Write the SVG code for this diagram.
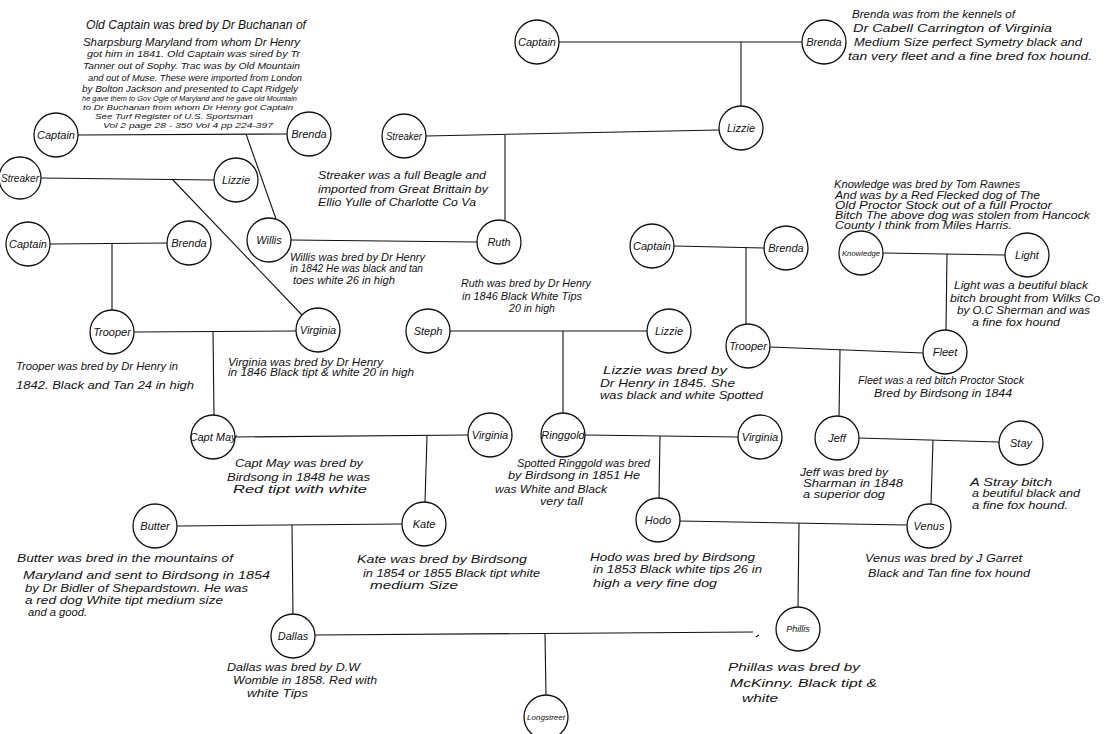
<svg xmlns="http://www.w3.org/2000/svg" width="1108" height="734" viewBox="0 0 1108 734">
<style>
.bg{fill:#fff}
.n circle{fill:#fff;stroke:#111;stroke-width:1.3}
.n text{font-family:"Liberation Sans",Arial,sans-serif;font-style:italic;font-size:11px;fill:#111;text-anchor:middle}
.c line,.c path{stroke:#111;stroke-width:1.1;fill:none}
.t text{font-family:"Liberation Sans",Arial,sans-serif;font-style:italic;font-size:11px;fill:#111}
.t .s{font-size:9px}
.t .xs{font-size:8px}
.t .b{font-size:13px}
.t .k{font-size:10px}
</style>
<rect class="bg" x="0" y="0" width="1108" height="734"/>

<g id="connectors" class="c">
<line x1="559" y1="42" x2="802" y2="42"/>
<line x1="741" y1="42" x2="741" y2="106"/>
<line x1="426" y1="136" x2="719" y2="130"/>
<line x1="505" y1="135" x2="505" y2="220"/>
<line x1="78" y1="135" x2="287" y2="134"/>
<line x1="246" y1="134" x2="276" y2="219"/>
<line x1="41" y1="178" x2="214" y2="180"/>
<line x1="172" y1="179" x2="302" y2="315"/>
<line x1="50" y1="244" x2="167" y2="243"/>
<line x1="112" y1="244" x2="112" y2="310"/>
<line x1="291" y1="240" x2="477" y2="242"/>
<line x1="134" y1="332" x2="296" y2="331"/>
<line x1="213" y1="332" x2="214" y2="415"/>
<line x1="450" y1="331" x2="647" y2="331"/>
<line x1="563" y1="331" x2="563" y2="413"/>
<line x1="674" y1="246" x2="764" y2="248"/>
<line x1="746" y1="247" x2="746" y2="324"/>
<line x1="883" y1="253" x2="1005" y2="255"/>
<line x1="947" y1="254" x2="946" y2="330"/>
<line x1="770" y1="347" x2="923" y2="353"/>
<line x1="840" y1="350" x2="839" y2="418"/>
<line x1="235" y1="437" x2="468" y2="435"/>
<line x1="427" y1="436" x2="425" y2="502"/>
<line x1="585" y1="435" x2="738" y2="437"/>
<line x1="660" y1="436" x2="659" y2="498"/>
<line x1="858" y1="438" x2="999" y2="442"/>
<line x1="933" y1="440" x2="931" y2="504"/>
<line x1="177" y1="526" x2="402" y2="524"/>
<line x1="292" y1="525" x2="293" y2="615"/>
<line x1="680" y1="521" x2="907" y2="525"/>
<line x1="799" y1="523" x2="798" y2="607"/>
<line x1="315" y1="635" x2="753" y2="632"/>
<path d="M756 637 L759 635 M776 634 L781 634"/>
<line x1="545" y1="634" x2="546" y2="695"/>
</g>

<g id="node-captain-1" class="n"><circle cx="537" cy="42" r="22"/><text x="537" y="46">Captain</text></g>
<g id="node-brenda-1" class="n"><circle cx="824" cy="42" r="22"/><text x="824" y="46">Brenda</text></g>
<g id="node-lizzie-1" class="n"><circle cx="741" cy="128" r="22"/><text x="741" y="132">Lizzie</text></g>
<g id="node-streaker-1" class="n"><circle cx="404" cy="136" r="22"/><text x="404" y="140" textLength="36" lengthAdjust="spacingAndGlyphs">Streaker</text></g>
<g id="node-captain-2" class="n"><circle cx="56" cy="135" r="22"/><text x="56" y="139">Captain</text></g>
<g id="node-brenda-2" class="n"><circle cx="309" cy="134" r="22"/><text x="309" y="138">Brenda</text></g>
<g id="node-streaker-2" class="n"><circle cx="20" cy="178" r="21"/><text x="20" y="182" textLength="38" lengthAdjust="spacingAndGlyphs">Streaker</text></g>
<g id="node-lizzie-2" class="n"><circle cx="236" cy="180" r="22"/><text x="236" y="184">Lizzie</text></g>
<g id="node-captain-3" class="n"><circle cx="28" cy="244" r="22"/><text x="28" y="248">Captain</text></g>
<g id="node-brenda-3" class="n"><circle cx="189" cy="243" r="22"/><text x="189" y="247">Brenda</text></g>
<g id="node-willis" class="n"><circle cx="269" cy="240" r="22"/><text x="269" y="244">Willis</text></g>
<g id="node-ruth" class="n"><circle cx="499" cy="242" r="22"/><text x="499" y="246">Ruth</text></g>
<g id="node-captain-4" class="n"><circle cx="652" cy="246" r="22"/><text x="652" y="250">Captain</text></g>
<g id="node-brenda-4" class="n"><circle cx="786" cy="248" r="22"/><text x="786" y="252">Brenda</text></g>
<g id="node-knowledge" class="n"><circle cx="861" cy="253" r="22"/><text x="861" y="256" style="font-size:8px" textLength="38" lengthAdjust="spacingAndGlyphs">Knowledge</text></g>
<g id="node-light" class="n"><circle cx="1027" cy="255" r="22"/><text x="1027" y="259">Light</text></g>
<g id="node-trooper-1" class="n"><circle cx="112" cy="332" r="22"/><text x="112" y="336">Trooper</text></g>
<g id="node-virginia-1" class="n"><circle cx="318" cy="330" r="22"/><text x="318" y="334">Virginia</text></g>
<g id="node-steph" class="n"><circle cx="428" cy="331" r="22"/><text x="428" y="335">Steph</text></g>
<g id="node-lizzie-3" class="n"><circle cx="669" cy="331" r="22"/><text x="669" y="335">Lizzie</text></g>
<g id="node-trooper-2" class="n"><circle cx="748" cy="346" r="22"/><text x="748" y="350">Trooper</text></g>
<g id="node-fleet" class="n"><circle cx="945" cy="352" r="22"/><text x="945" y="356">Fleet</text></g>
<g id="node-captmay" class="n"><circle cx="213" cy="437" r="22"/><text x="213" y="441">Capt May</text></g>
<g id="node-virginia-2" class="n"><circle cx="490" cy="435" r="22"/><text x="490" y="439">Virginia</text></g>
<g id="node-ringgold" class="n"><circle cx="563" cy="435" r="22"/><text x="563" y="439">Ringgold</text></g>
<g id="node-virginia-3" class="n"><circle cx="760" cy="437" r="22"/><text x="760" y="441">Virginia</text></g>
<g id="node-jeff" class="n"><circle cx="837" cy="438" r="22"/><text x="837" y="442">Jeff</text></g>
<g id="node-stay" class="n"><circle cx="1021" cy="443" r="22"/><text x="1021" y="447">Stay</text></g>
<g id="node-butter" class="n"><circle cx="155" cy="526" r="22"/><text x="155" y="530">Butter</text></g>
<g id="node-kate" class="n"><circle cx="424" cy="524" r="22"/><text x="424" y="528">Kate</text></g>
<g id="node-hodo" class="n"><circle cx="658" cy="520" r="22"/><text x="658" y="524">Hodo</text></g>
<g id="node-venus" class="n"><circle cx="929" cy="526" r="22"/><text x="929" y="530">Venus</text></g>
<g id="node-dallas" class="n"><circle cx="293" cy="636" r="22"/><text x="293" y="640">Dallas</text></g>
<g id="node-phillis" class="n"><circle cx="798" cy="629" r="22"/><text x="798" y="632" style="font-size:9px">Phillis</text></g>
<g id="node-longstreet" class="n"><circle cx="546" cy="717" r="22"/><text x="546" y="720" style="font-size:8px" textLength="38" lengthAdjust="spacingAndGlyphs">Longstreet</text></g>

<g id="notes" class="t">
<text class="b" x="86" y="29" textLength="220" lengthAdjust="spacingAndGlyphs">Old Captain was bred by Dr Buchanan of</text>
<text x="83" y="46" textLength="217" lengthAdjust="spacingAndGlyphs">Sharpsburg Maryland from whom Dr Henry</text>
<text class="s" x="87" y="57" textLength="213" lengthAdjust="spacingAndGlyphs">got him in 1841. Old Captain was sired by Tr</text>
<text class="s" x="83" y="69" textLength="217" lengthAdjust="spacingAndGlyphs">Tanner out of Sophy. Trac was by Old Mountain</text>
<text class="s" x="88" y="81" textLength="214" lengthAdjust="spacingAndGlyphs">and out of Muse. These were imported from London</text>
<text class="s" x="82" y="92" textLength="216" lengthAdjust="spacingAndGlyphs">by Bolton Jackson and presented to Capt Ridgely</text>
<text class="xs" x="82" y="101" textLength="215" lengthAdjust="spacingAndGlyphs">he gave them to Gov Ogle of Maryland and he gave old Mountain</text>
<text class="xs" x="83" y="110" textLength="210" lengthAdjust="spacingAndGlyphs">to Dr Buchanan from whom Dr Henry got Captain</text>
<text class="xs" x="95" y="119" textLength="158" lengthAdjust="spacingAndGlyphs">See Turf Register of U.S. Sportsman</text>
<text class="xs" x="103" y="128" textLength="170" lengthAdjust="spacingAndGlyphs">Vol 2 page 28 - 350 Vol 4 pp 224-397</text>

<text x="852" y="18" textLength="163" lengthAdjust="spacingAndGlyphs">Brenda was from the kennels of</text>
<text x="853" y="32" textLength="199" lengthAdjust="spacingAndGlyphs">Dr Cabell Carrington of Virginia</text>
<text x="854" y="46" textLength="228" lengthAdjust="spacingAndGlyphs">Medium Size perfect Symetry black and</text>
<text x="848" y="60" textLength="244" lengthAdjust="spacingAndGlyphs">tan very fleet and a fine bred fox hound.</text>

<text x="318" y="179" textLength="168" lengthAdjust="spacingAndGlyphs">Streaker was a full Beagle and</text>
<text x="318" y="193" textLength="170" lengthAdjust="spacingAndGlyphs">imported from Great Brittain by</text>
<text x="318" y="206" textLength="158" lengthAdjust="spacingAndGlyphs">Ellio Yulle of Charlotte Co Va</text>

<text x="290" y="261" textLength="135" lengthAdjust="spacingAndGlyphs">Willis was bred by Dr Henry</text>
<text x="290" y="272" textLength="133" lengthAdjust="spacingAndGlyphs">in 1842 He was black and tan</text>
<text x="293" y="284" textLength="102" lengthAdjust="spacingAndGlyphs">toes white 26 in high</text>

<text x="461" y="287" textLength="130" lengthAdjust="spacingAndGlyphs">Ruth was bred by Dr Henry</text>
<text x="462" y="300" textLength="120" lengthAdjust="spacingAndGlyphs">in 1846 Black White Tips</text>
<text x="509" y="312" textLength="46" lengthAdjust="spacingAndGlyphs">20 in high</text>

<text class="k" x="834" y="188" textLength="186" lengthAdjust="spacingAndGlyphs">Knowledge was bred by Tom Rawnes</text>
<text class="k" x="835" y="199" textLength="205" lengthAdjust="spacingAndGlyphs">And was by a Red Flecked dog of The</text>
<text class="k" x="835" y="209" textLength="217" lengthAdjust="spacingAndGlyphs">Old Proctor Stock out of a full Proctor</text>
<text class="k" x="835" y="219" textLength="255" lengthAdjust="spacingAndGlyphs">Bitch The above dog was stolen from Hancock</text>
<text class="k" x="835" y="229" textLength="177" lengthAdjust="spacingAndGlyphs">County I think from Miles Harris.</text>

<text x="954" y="289" textLength="134" lengthAdjust="spacingAndGlyphs">Light was a beutiful black</text>
<text x="950" y="302" textLength="150" lengthAdjust="spacingAndGlyphs">bitch brought from Wilks Co</text>
<text x="957" y="314" textLength="133" lengthAdjust="spacingAndGlyphs">by O.C Sherman and was</text>
<text x="972" y="326" textLength="88" lengthAdjust="spacingAndGlyphs">a fine fox hound</text>

<text x="858" y="384" textLength="166" lengthAdjust="spacingAndGlyphs">Fleet was a red bitch Proctor Stock</text>
<text x="874" y="397" textLength="138" lengthAdjust="spacingAndGlyphs">Bred by Birdsong in 1844</text>

<text x="16" y="370" textLength="162" lengthAdjust="spacingAndGlyphs">Trooper was bred by Dr Henry in</text>
<text x="16" y="389" textLength="178" lengthAdjust="spacingAndGlyphs">1842. Black and Tan 24 in high</text>

<text x="228" y="366" textLength="155" lengthAdjust="spacingAndGlyphs">Virginia was bred by Dr Henry</text>
<text x="228" y="376" textLength="186" lengthAdjust="spacingAndGlyphs">in 1846 Black tipt &amp; white 20 in high</text>

<text x="603" y="374" textLength="124" lengthAdjust="spacingAndGlyphs">Lizzie was bred by</text>
<text x="600" y="387" textLength="135" lengthAdjust="spacingAndGlyphs">Dr Henry in 1845. She</text>
<text x="600" y="399" textLength="163" lengthAdjust="spacingAndGlyphs">was black and white Spotted</text>

<text x="235" y="467" textLength="128" lengthAdjust="spacingAndGlyphs">Capt May was bred by</text>
<text x="227" y="481" textLength="143" lengthAdjust="spacingAndGlyphs">Birdsong in 1848 he was</text>
<text x="233" y="493" textLength="134" lengthAdjust="spacingAndGlyphs">Red tipt with white</text>

<text x="517" y="467" textLength="133" lengthAdjust="spacingAndGlyphs">Spotted Ringgold was bred</text>
<text x="508" y="479" textLength="132" lengthAdjust="spacingAndGlyphs">by Birdsong in 1851 He</text>
<text x="495" y="493" textLength="112" lengthAdjust="spacingAndGlyphs">was White and Black</text>
<text x="540" y="505" textLength="43" lengthAdjust="spacingAndGlyphs">very tall</text>

<text x="800" y="476" textLength="88" lengthAdjust="spacingAndGlyphs">Jeff was bred by</text>
<text x="803" y="487" textLength="100" lengthAdjust="spacingAndGlyphs">Sharman in 1848</text>
<text x="803" y="498" textLength="82" lengthAdjust="spacingAndGlyphs">a superior dog</text>

<text x="970" y="486" textLength="82" lengthAdjust="spacingAndGlyphs">A Stray bitch</text>
<text x="972" y="497" textLength="108" lengthAdjust="spacingAndGlyphs">a beutiful black and</text>
<text x="972" y="509" textLength="96" lengthAdjust="spacingAndGlyphs">a fine fox hound.</text>

<text x="17" y="562" textLength="216" lengthAdjust="spacingAndGlyphs">Butter was bred in the mountains of</text>
<text x="23" y="579" textLength="247" lengthAdjust="spacingAndGlyphs">Maryland and sent to Birdsong in 1854</text>
<text x="25" y="592" textLength="223" lengthAdjust="spacingAndGlyphs">by Dr Bidler of Shepardstown. He was</text>
<text x="25" y="604" textLength="198" lengthAdjust="spacingAndGlyphs">a red dog White tipt medium size</text>
<text x="28" y="616" textLength="59" lengthAdjust="spacingAndGlyphs">and a good.</text>

<text x="357" y="563" textLength="170" lengthAdjust="spacingAndGlyphs">Kate was bred by Birdsong</text>
<text x="363" y="577" textLength="177" lengthAdjust="spacingAndGlyphs">in 1854 or 1855 Black tipt white</text>
<text x="370" y="589" textLength="88" lengthAdjust="spacingAndGlyphs">medium Size</text>

<text x="590" y="561" textLength="165" lengthAdjust="spacingAndGlyphs">Hodo was bred by Birdsong</text>
<text x="593" y="573" textLength="169" lengthAdjust="spacingAndGlyphs">in 1853 Black white tips 26 in</text>
<text x="593" y="587" textLength="124" lengthAdjust="spacingAndGlyphs">high a very fine dog</text>

<text x="865" y="562" textLength="157" lengthAdjust="spacingAndGlyphs">Venus was bred by J Garret</text>
<text x="868" y="577" textLength="162" lengthAdjust="spacingAndGlyphs">Black and Tan fine fox hound</text>

<text x="227" y="671" textLength="133" lengthAdjust="spacingAndGlyphs">Dallas was bred by D.W</text>
<text x="233" y="684" textLength="144" lengthAdjust="spacingAndGlyphs">Womble in 1858. Red with</text>
<text x="247" y="697" textLength="61" lengthAdjust="spacingAndGlyphs">white Tips</text>

<text x="728" y="671" textLength="132" lengthAdjust="spacingAndGlyphs">Phillas was bred by</text>
<text x="730" y="687" textLength="147" lengthAdjust="spacingAndGlyphs">McKinny. Black tipt &amp;</text>
<text x="742" y="702" textLength="36" lengthAdjust="spacingAndGlyphs">white</text>
</g>
</svg>
